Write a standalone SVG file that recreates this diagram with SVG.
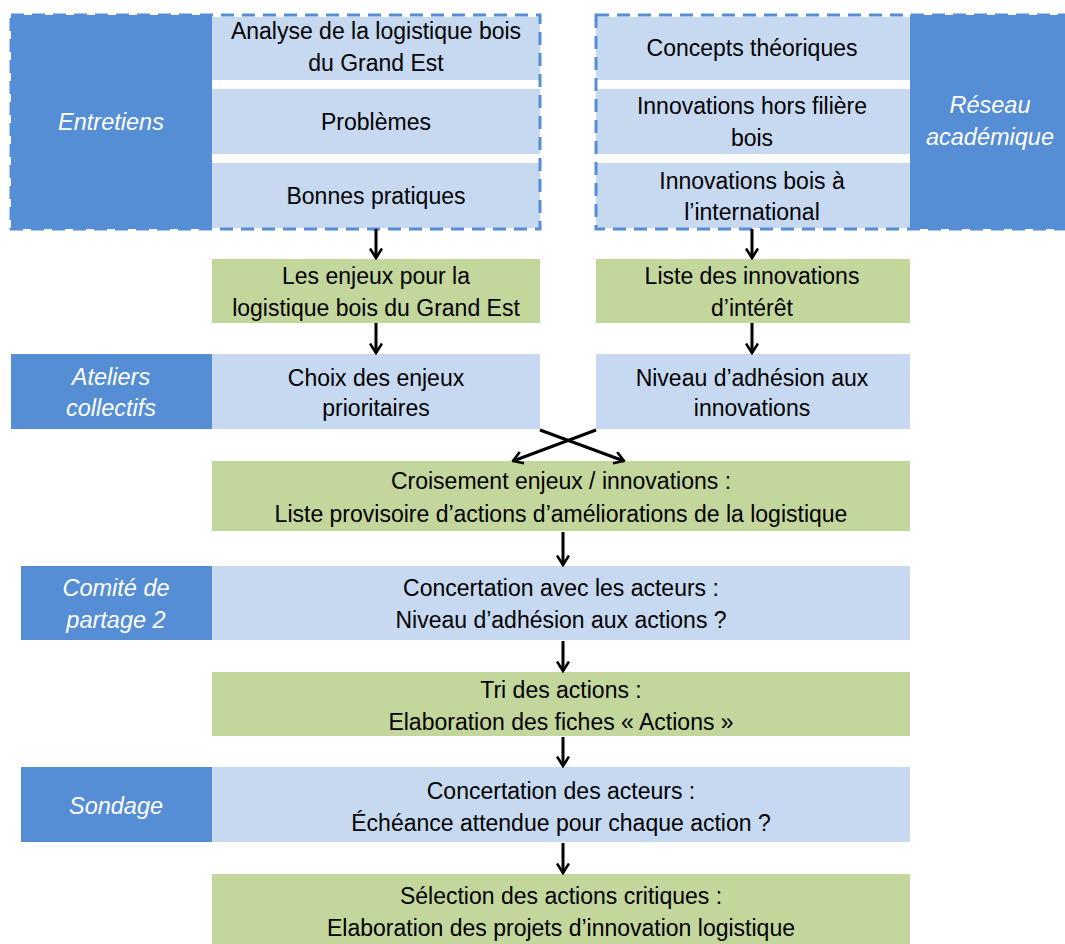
<svg xmlns="http://www.w3.org/2000/svg" width="1065" height="944" viewBox="0 0 1065 944">
<style>
.dark{fill:#558ED5}
.light{fill:#C6D9F1}
.green{fill:#C3D69B}
.dash{fill:none;stroke:#558ED5;stroke-width:3;stroke-dasharray:13 8}
text{font-family:"Liberation Sans",Arial,sans-serif;font-size:23px;text-anchor:middle;fill:#000}
text.lab{fill:#fff;font-style:italic;font-size:23.5px}
.conn{stroke:#000;stroke-width:3;fill:none;marker-end:url(#ah)}
</style>
<defs>
<marker id="ah" viewBox="0 0 12 14" refX="10.5" refY="7" markerWidth="12" markerHeight="14" markerUnits="userSpaceOnUse" orient="auto">
<path d="M1,1 L10.5,7 L1,13" fill="none" stroke="#000" stroke-width="2.6"/>
</marker>
</defs>
<rect x="0" y="0" width="1065" height="944" fill="#fff"/>

<g id="entretiens">
<rect class="dark" x="11" y="15" width="201" height="214"/>
<text class="lab" x="111" y="130">Entretiens</text>
</g>
<g id="analyse">
<rect class="light" x="212" y="17" width="328" height="63"/>
<text x="376" y="39">Analyse de la logistique bois</text>
<text x="376" y="71">du Grand Est</text>
</g>
<g id="problemes">
<rect class="light" x="212" y="89" width="328" height="65"/>
<text x="376" y="130">Problèmes</text>
</g>
<g id="bonnes">
<rect class="light" x="212" y="163" width="328" height="65"/>
<text x="376" y="204">Bonnes pratiques</text>
</g>
<rect class="dash" x="11" y="15" width="529" height="214"/>

<g id="concepts">
<rect class="light" x="596" y="17" width="314" height="63"/>
<text x="752" y="56">Concepts théoriques</text>
</g>
<g id="horsfiliere">
<rect class="light" x="596" y="89" width="314" height="65"/>
<text x="752" y="114">Innovations hors filière</text>
<text x="752" y="146">bois</text>
</g>
<g id="international">
<rect class="light" x="596" y="163" width="314" height="65"/>
<text x="752" y="189">Innovations bois à</text>
<text x="752" y="220">l’international</text>
</g>
<g id="reseau">
<rect class="dark" x="910" y="15" width="155" height="214"/>
<text class="lab" x="990" y="113">Réseau</text>
<text class="lab" x="990" y="145">académique</text>
</g>
<rect class="dash" x="596" y="15" width="475" height="214"/>

<g id="enjeux">
<rect class="green" x="212" y="259" width="328" height="64"/>
<text x="376" y="284">Les enjeux pour la</text>
<text x="376" y="316">logistique bois du Grand Est</text>
</g>
<g id="listeinnov">
<rect class="green" x="596" y="259" width="314" height="64"/>
<text x="752" y="284">Liste des innovations</text>
<text x="752" y="316">d’intérêt</text>
</g>

<g id="ateliers">
<rect class="dark" x="11" y="354" width="201" height="75"/>
<text class="lab" x="111" y="385">Ateliers</text>
<text class="lab" x="111" y="416">collectifs</text>
</g>
<g id="choix">
<rect class="light" x="212" y="354" width="328" height="75"/>
<text x="376" y="386">Choix des enjeux</text>
<text x="376" y="416">prioritaires</text>
</g>
<g id="adhesioninnov">
<rect class="light" x="596" y="354" width="314" height="75"/>
<text x="752" y="386">Niveau d’adhésion aux</text>
<text x="752" y="416">innovations</text>
</g>

<g id="croisement">
<rect class="green" x="212" y="461" width="698" height="70"/>
<text x="561" y="489">Croisement enjeux / innovations :</text>
<text x="561" y="522">Liste provisoire d’actions d’améliorations de la logistique</text>
</g>

<g id="comite">
<rect class="dark" x="21" y="566" width="191" height="74"/>
<text class="lab" x="116" y="596">Comité de</text>
<text class="lab" x="116" y="628">partage 2</text>
</g>
<g id="concertation1">
<rect class="light" x="212" y="566" width="698" height="74"/>
<text x="561" y="596">Concertation avec les acteurs :</text>
<text x="561" y="628">Niveau d’adhésion aux actions ?</text>
</g>

<g id="tri">
<rect class="green" x="212" y="672" width="698" height="64"/>
<text x="561" y="698">Tri des actions :</text>
<text x="561" y="730">Elaboration des fiches « Actions »</text>
</g>

<g id="sondage">
<rect class="dark" x="21" y="767" width="191" height="75"/>
<text class="lab" x="116" y="814">Sondage</text>
</g>
<g id="concertation2">
<rect class="light" x="212" y="767" width="698" height="75"/>
<text x="561" y="799">Concertation des acteurs :</text>
<text x="561" y="831">Échéance attendue pour chaque action ?</text>
</g>

<g id="selection">
<rect class="green" x="212" y="874" width="698" height="70"/>
<text x="561" y="904">Sélection des actions critiques :</text>
<text x="561" y="936">Elaboration des projets d’innovation logistique</text>
</g>

<g id="connectors">
<line class="conn" x1="376" y1="229" x2="376" y2="258"/>
<line class="conn" x1="752" y1="229" x2="752" y2="258"/>
<line class="conn" x1="376" y1="323" x2="376" y2="353"/>
<line class="conn" x1="752" y1="323" x2="752" y2="353"/>
<line class="conn" x1="540" y1="430" x2="624" y2="461"/>
<line class="conn" x1="596" y1="430" x2="513" y2="461"/>
<line class="conn" x1="563" y1="532" x2="563" y2="565"/>
<line class="conn" x1="563" y1="641" x2="563" y2="671"/>
<line class="conn" x1="563" y1="737" x2="563" y2="766"/>
<line class="conn" x1="563" y1="843" x2="563" y2="873"/>
</g>
</svg>
